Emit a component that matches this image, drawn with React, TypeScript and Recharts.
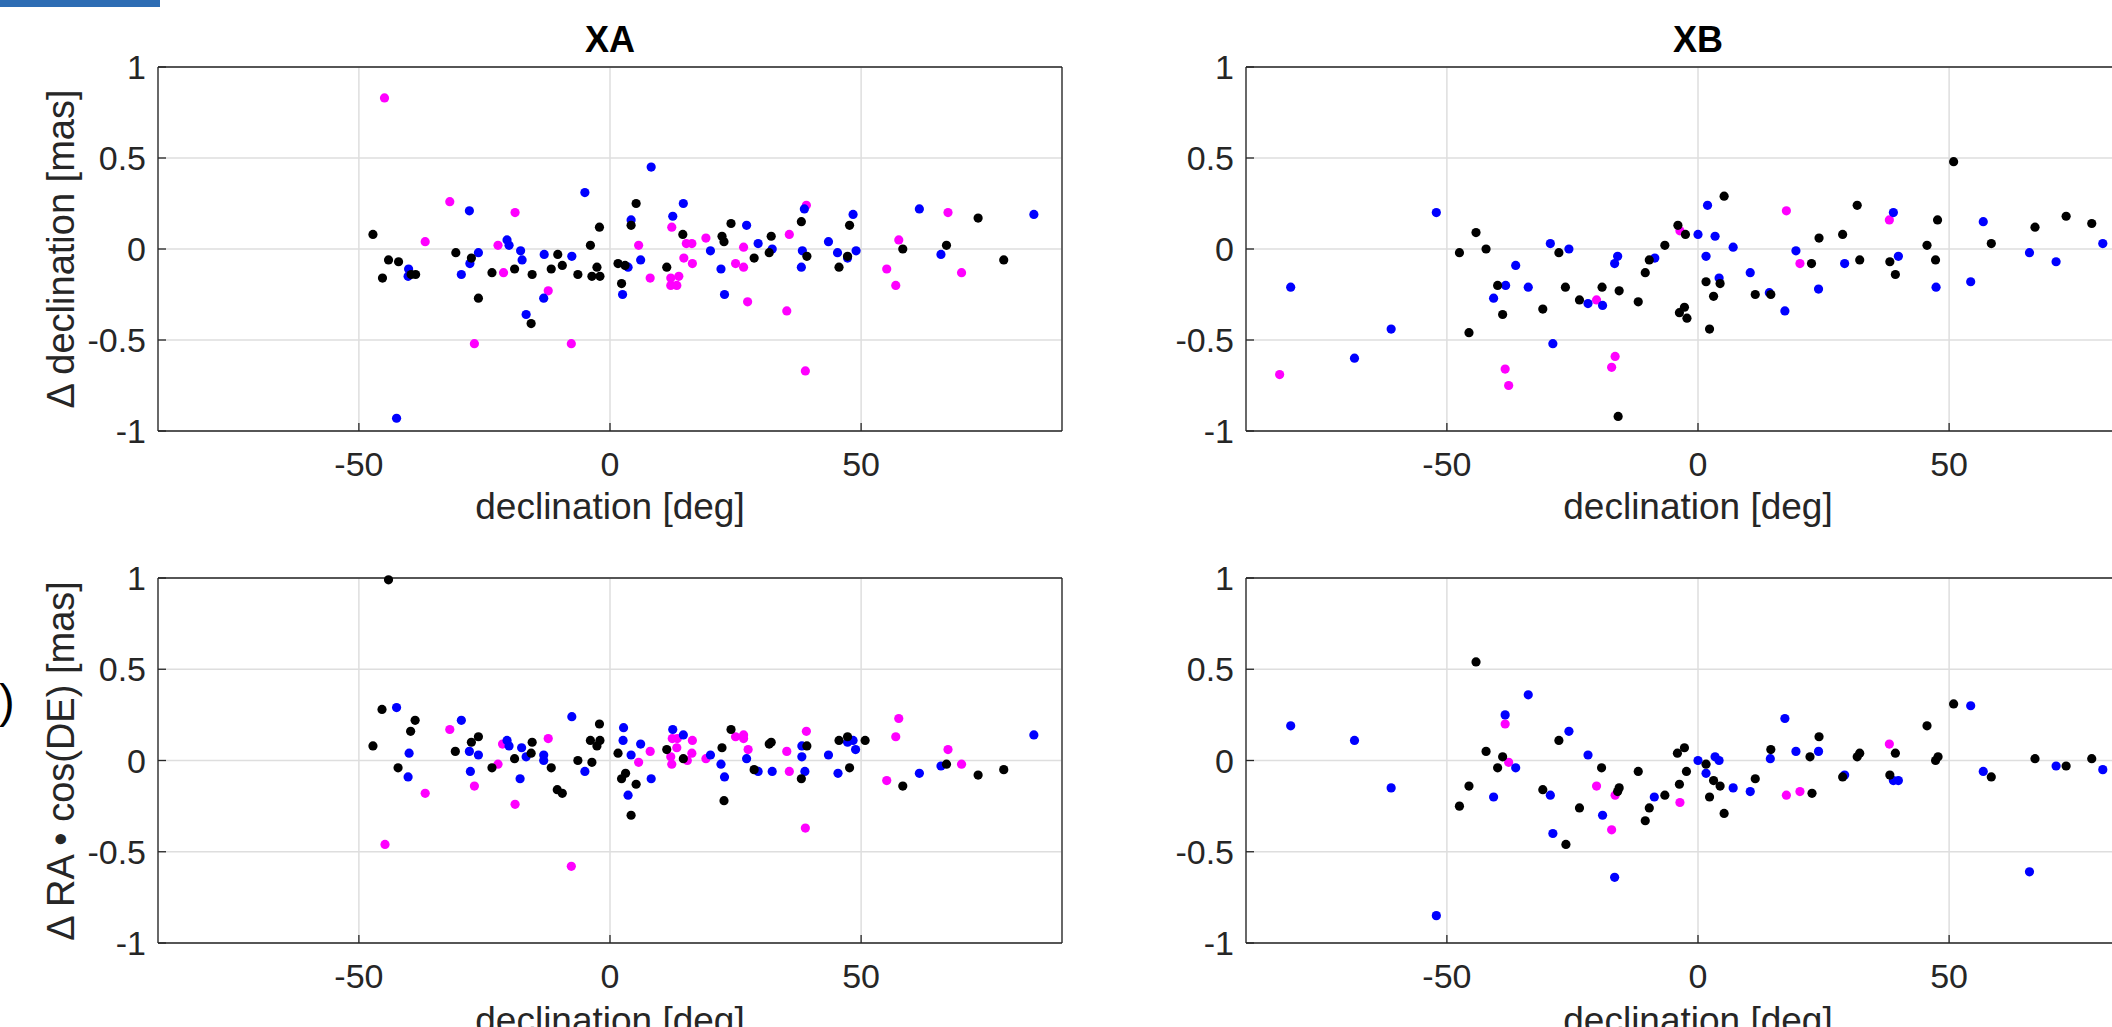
import { CartesianGrid, Scatter, ScatterChart, XAxis, YAxis } from "recharts"

type Pt = [number, number]

// declination [deg], offset [mas]
const xaDecMagenta: Pt[] = [
  [-44.9, 0.83], [-31.9, 0.26], [-36.8, 0.04], [-18.9, 0.2], [-22.3, 0.02], [-21.2, -0.13],
  [-27.0, -0.52], [-12.3, -0.23], [-7.7, -0.52], [5.7, 0.02], [12.3, 0.12], [8.0, -0.16],
  [14.7, -0.05], [16.4, -0.08], [15.2, 0.03], [16.3, 0.03], [19.1, 0.06], [12.1, -0.16],
  [13.7, -0.15], [12.1, -0.2], [13.3, -0.2], [26.6, 0.01], [25.0, -0.08], [26.6, -0.1],
  [27.4, -0.29], [35.7, 0.08], [35.2, -0.34], [39.1, 0.24], [38.9, -0.67], [57.5, 0.05],
  [55.1, -0.11], [56.9, -0.2], [67.3, 0.2], [70.0, -0.13],
]
const xaDecBlue: Pt[] = [
  [-42.5, -0.93], [-28.0, 0.21], [-26.2, -0.02], [-27.9, -0.08], [-29.6, -0.14], [-40.1, -0.11],
  [-40.2, -0.15], [-20.5, 0.05], [-20.1, 0.02], [-17.8, -0.01], [-17.5, -0.06], [-13.1, -0.03],
  [-7.6, -0.04], [-13.2, -0.27], [-16.7, -0.36], [-5.0, 0.31], [8.2, 0.45], [4.2, 0.16],
  [14.6, 0.25], [12.5, 0.18], [6.1, -0.06], [3.6, -0.1], [2.5, -0.25], [20.0, -0.01],
  [27.2, 0.13], [29.5, 0.03], [32.3, 0.0], [22.1, -0.11], [22.8, -0.25], [38.7, 0.22],
  [38.3, -0.01], [38.1, -0.1], [43.5, 0.04], [45.3, -0.02], [47.3, -0.05], [48.4, 0.19],
  [49.0, -0.01], [61.6, 0.22], [65.9, -0.03], [84.4, 0.19],
]
const xaDecBlack: Pt[] = [
  [-47.2, 0.08], [-45.3, -0.16], [-44.1, -0.06], [-42.1, -0.07], [-39.6, -0.14], [-38.7, -0.14],
  [-30.7, -0.02], [-27.6, -0.05], [-26.2, -0.27], [-23.5, -0.13], [-19.0, -0.11], [-15.5, -0.14],
  [-15.7, -0.41], [-11.7, -0.11], [-10.4, -0.03], [-9.5, -0.09], [-6.4, -0.14], [-3.9, 0.02],
  [-2.6, -0.1], [-3.6, -0.15], [-2.0, -0.15], [-2.1, 0.12], [5.2, 0.25], [4.2, 0.13],
  [1.6, -0.08], [3.0, -0.09], [2.3, -0.19], [11.3, -0.1], [14.5, 0.08], [24.1, 0.14],
  [22.3, 0.07], [22.7, 0.04], [28.7, -0.05], [32.1, 0.07], [31.7, -0.02], [38.1, 0.15],
  [39.2, -0.04], [47.7, 0.13], [45.6, -0.1], [47.3, -0.04], [58.3, 0.0], [67.0, 0.02],
  [73.3, 0.17], [78.4, -0.06],
]

const xbDecMagenta: Pt[] = [
  [-83.3, -0.69], [-38.4, -0.66], [-37.7, -0.75], [-16.5, -0.59], [-17.2, -0.65], [-20.2, -0.28],
  [-3.6, 0.1], [17.6, 0.21], [20.3, -0.08], [38.1, 0.16],
]
const xbDecBlue: Pt[] = [
  [-81.1, -0.21], [-68.4, -0.6], [-61.1, -0.44], [-52.1, 0.2], [-29.4, 0.03], [-25.7, 0.0],
  [-36.3, -0.09], [-38.3, -0.2], [-33.8, -0.21], [-40.7, -0.27], [-28.9, -0.52], [-16.0, -0.04],
  [-16.6, -0.08], [-21.9, -0.3], [-19.0, -0.31], [-8.6, -0.05], [1.9, 0.24], [0.0, 0.08],
  [3.4, 0.07], [7.0, 0.01], [1.6, -0.04], [4.2, -0.16], [10.4, -0.13], [14.2, -0.24],
  [17.3, -0.34], [19.5, -0.01], [24.0, -0.22], [29.2, -0.08], [38.9, 0.2], [39.9, -0.04],
  [47.4, -0.21], [54.3, -0.18], [56.8, 0.15], [66.0, -0.02], [71.3, -0.07], [80.6, 0.03],
]
const xbDecBlack: Pt[] = [
  [-44.2, 0.09], [-47.5, -0.02], [-42.2, 0.0], [-39.9, -0.2], [-38.9, -0.36], [-45.6, -0.46],
  [-30.9, -0.33], [-27.7, -0.02], [-26.4, -0.21], [-23.6, -0.28], [-19.1, -0.21], [-15.7, -0.23],
  [-15.9, -0.92], [-11.9, -0.29], [-10.5, -0.13], [-9.7, -0.06], [-6.6, 0.02], [-4.0, 0.13],
  [-2.5, 0.08], [-3.7, -0.35], [-2.7, -0.32], [-2.2, -0.38], [5.2, 0.29], [2.3, -0.44],
  [1.6, -0.18], [4.4, -0.19], [3.1, -0.26], [11.4, -0.25], [14.5, -0.25], [24.1, 0.06],
  [28.8, 0.08], [31.7, 0.24], [22.6, -0.08], [32.2, -0.06], [38.2, -0.07], [39.3, -0.14],
  [45.6, 0.02], [47.7, 0.16], [47.3, -0.06], [50.9, 0.48], [58.4, 0.03], [67.1, 0.12],
  [73.3, 0.18], [78.4, 0.14],
]

const xaRaMagenta: Pt[] = [
  [-44.8, -0.46], [-36.8, -0.18], [-31.9, 0.17], [-27.0, -0.14], [-22.3, -0.02], [-21.4, 0.09],
  [-18.9, -0.24], [-12.3, 0.12], [-7.7, -0.58], [5.7, -0.01], [8.0, 0.05], [12.4, 0.12],
  [13.4, 0.12], [13.3, 0.07], [12.1, 0.02], [12.3, -0.02], [16.4, 0.11], [16.3, 0.04],
  [15.4, 0.0], [19.1, 0.01], [25.0, 0.13], [26.6, 0.14], [26.6, 0.12], [27.5, 0.06],
  [35.2, 0.05], [35.7, -0.06], [39.1, 0.16], [38.9, -0.37], [57.5, 0.23], [56.9, 0.13],
  [55.1, -0.11], [67.3, 0.06], [70.0, -0.02],
]
const xaRaBlue: Pt[] = [
  [-42.5, 0.29], [-40.0, 0.04], [-40.2, -0.09], [-29.6, 0.22], [-28.0, 0.05], [-26.2, 0.03],
  [-27.8, -0.06], [-20.5, 0.11], [-20.1, 0.08], [-17.6, 0.07], [-16.7, 0.02], [-13.2, 0.03],
  [-13.2, 0.0], [-17.9, -0.1], [-7.6, 0.24], [-5.0, -0.06], [2.7, 0.18], [2.6, 0.11],
  [4.2, 0.03], [6.1, 0.09], [8.2, -0.1], [3.6, -0.19], [12.5, 0.17], [14.6, 0.14],
  [20.0, 0.03], [22.1, -0.02], [22.8, -0.09], [27.2, 0.01], [29.5, -0.06], [32.3, -0.06],
  [38.2, 0.08], [38.2, 0.02], [38.8, -0.06], [43.5, 0.03], [45.4, -0.07], [47.3, 0.1],
  [48.4, 0.11], [48.9, 0.06], [61.6, -0.07], [65.9, -0.03], [84.4, 0.14],
]
const xaRaBlack: Pt[] = [
  [-44.1, 0.99], [-45.4, 0.28], [-47.2, 0.08], [-42.2, -0.04], [-38.8, 0.22], [-39.7, 0.16],
  [-30.8, 0.05], [-27.6, 0.1], [-26.2, 0.13], [-23.5, -0.04], [-19.0, 0.01], [-15.5, 0.1],
  [-15.7, 0.04], [-11.7, -0.04], [-10.5, -0.16], [-9.5, -0.18], [-6.4, 0.0], [-3.6, -0.01],
  [-2.1, 0.2], [-3.9, 0.11], [-2.0, 0.11], [-2.6, 0.08], [1.6, 0.04], [3.1, -0.07],
  [2.3, -0.1], [5.2, -0.13], [4.2, -0.3], [11.3, 0.06], [14.6, 0.01], [24.1, 0.17],
  [22.3, 0.07], [22.7, -0.22], [28.7, -0.05], [31.7, 0.09], [32.1, 0.1], [39.2, 0.08],
  [38.1, -0.1], [45.6, 0.11], [47.3, 0.13], [47.7, -0.04], [50.8, 0.11], [58.3, -0.14],
  [67.0, -0.02], [73.3, -0.08], [78.4, -0.05],
]

const xbRaMagenta: Pt[] = [
  [-38.4, 0.2], [-37.7, -0.01], [-20.2, -0.14], [-16.5, -0.19], [-17.2, -0.38], [-3.6, -0.23],
  [17.6, -0.19], [20.3, -0.17], [38.1, 0.09],
]
const xbRaBlue: Pt[] = [
  [-81.1, 0.19], [-68.4, 0.11], [-61.1, -0.15], [-52.1, -0.85], [-38.4, 0.25], [-33.8, 0.36],
  [-25.7, 0.16], [-36.3, -0.04], [-40.7, -0.2], [-29.4, -0.19], [-28.9, -0.4], [-21.9, 0.03],
  [-19.0, -0.3], [-16.6, -0.64], [-8.7, -0.2], [0.0, 0.0], [1.6, -0.07], [3.4, 0.02],
  [4.2, 0.0], [7.0, -0.15], [10.4, -0.17], [14.4, 0.01], [17.3, 0.23], [19.5, 0.05],
  [24.0, 0.05], [29.2, -0.08], [38.9, -0.11], [39.9, -0.11], [54.3, 0.3], [56.8, -0.06],
  [66.0, -0.61], [71.3, -0.03], [80.6, -0.05],
]
const xbRaBlack: Pt[] = [
  [-44.2, 0.54], [-42.2, 0.05], [-38.9, 0.02], [-39.9, -0.04], [-45.6, -0.14], [-47.5, -0.25],
  [-27.7, 0.11], [-30.9, -0.16], [-23.6, -0.26], [-26.3, -0.46], [-19.2, -0.04], [-15.7, -0.15],
  [-16.0, -0.17], [-11.9, -0.06], [-9.7, -0.26], [-10.5, -0.33], [-6.6, -0.19], [-4.1, 0.04],
  [-2.7, 0.07], [-2.3, -0.06], [-3.7, -0.13], [1.6, -0.02], [3.1, -0.11], [4.4, -0.14],
  [2.3, -0.2], [5.2, -0.29], [11.4, -0.1], [14.5, 0.06], [22.3, 0.02], [24.1, 0.13],
  [22.7, -0.18], [28.8, -0.09], [31.7, 0.02], [32.2, 0.04], [38.2, -0.08], [39.3, 0.04],
  [45.6, 0.19], [47.3, 0.0], [47.8, 0.02], [50.9, 0.31], [58.4, -0.09], [67.1, 0.01],
  [73.3, -0.03], [78.4, 0.01],
]

const xTicks = [-50, 0, 50]
const yTicks = [-1, -0.5, 0, 0.5, 1]

const FONT = "'Liberation Sans', Arial, Helvetica, sans-serif"
const INK = "#262626"
const PLOT_W = 904
const M = { top: 70, right: 10, bottom: 110, left: 170 }

const toData = (pts: Pt[]) => pts.map(([x, y]) => ({ x, y }))

const dot = (color: string) => (p: any) => (
  <circle cx={p.cx} cy={p.cy} r={4.6} fill={color} />
)

type PanelProps = {
  left: number
  top: number
  height: number
  magenta: Pt[]
  blue: Pt[]
  black: Pt[]
}

const Panel = ({ left, top, height, magenta, blue, black }: PanelProps) => {
  const plotBottom = M.top + height
  const line = { stroke: INK, strokeWidth: 1.3 }
  return (
    <div style={{ position: "absolute", left: left - M.left, top: top - M.top }}>
      <ScatterChart width={M.left + PLOT_W + M.right} height={M.top + height + M.bottom} margin={M}>
        <CartesianGrid xAxisId="b" yAxisId="l" stroke="#dedede" strokeWidth={1.5} />
        <XAxis
          xAxisId="b"
          type="number"
          dataKey="x"
          domain={[-90, 90]}
          ticks={xTicks}
          interval={0}
          orientation="bottom"
          mirror
          tickSize={8}
          axisLine={line}
          tickLine={line}
          tick={(p: any) => (
            <text x={p.x} y={plotBottom + 45} textAnchor="middle" fontSize={34} fontFamily={FONT} fill={INK}>
              {p.payload.value}
            </text>
          )}
        />
        <XAxis
          xAxisId="t"
          type="number"
          dataKey="x"
          domain={[-90, 90]}
          ticks={xTicks}
          interval={0}
          orientation="top"
          mirror
          tickSize={8}
          axisLine={line}
          tickLine={line}
          tick={false}
        />
        <YAxis
          yAxisId="l"
          type="number"
          dataKey="y"
          domain={[-1, 1]}
          ticks={yTicks}
          interval={0}
          orientation="left"
          mirror
          tickSize={8}
          axisLine={line}
          tickLine={line}
          tick={(p: any) => (
            <text x={M.left - 12} y={p.y + 12} textAnchor="end" fontSize={34} fontFamily={FONT} fill={INK}>
              {p.payload.value}
            </text>
          )}
        />
        <YAxis
          yAxisId="r"
          type="number"
          dataKey="y"
          domain={[-1, 1]}
          ticks={yTicks}
          interval={0}
          orientation="right"
          mirror
          tickSize={8}
          axisLine={line}
          tickLine={line}
          tick={false}
        />
        <Scatter xAxisId="b" yAxisId="l" data={toData(magenta)} shape={dot("#ff00ff")} isAnimationActive={false} />
        <Scatter xAxisId="b" yAxisId="l" data={toData(blue)} shape={dot("#0000ff")} isAnimationActive={false} />
        <Scatter xAxisId="b" yAxisId="l" data={toData(black)} shape={dot("#000000")} isAnimationActive={false} />
      </ScatterChart>
    </div>
  )
}

const panels: PanelProps[] = [
  { left: 158, top: 67, height: 364, magenta: xaDecMagenta, blue: xaDecBlue, black: xaDecBlack },
  { left: 1246, top: 67, height: 364, magenta: xbDecMagenta, blue: xbDecBlue, black: xbDecBlack },
  { left: 158, top: 578, height: 365, magenta: xaRaMagenta, blue: xaRaBlue, black: xaRaBlack },
  { left: 1246, top: 578, height: 365, magenta: xbRaMagenta, blue: xbRaBlue, black: xbRaBlack },
]

export default function App() {
  const label = { fontFamily: FONT, fontSize: 37, fill: INK, textAnchor: "middle" as const }
  return (
    <div
      style={{
        position: "absolute",
        left: 0,
        top: 0,
        width: 2112,
        height: 1027,
        overflow: "hidden",
        background: "#fff",
      }}
    >
      {panels.map((p, i) => (
        <Panel key={i} {...p} />
      ))}
      <svg
        width={2112}
        height={1027}
        style={{ position: "absolute", left: 0, top: 0, pointerEvents: "none" }}
      >
        <rect x={0} y={0} width={160} height={7} fill="#2e6db4" />
        <text x={-1} y={717} fontFamily={FONT} fontSize={47} fill="#000">)</text>
        <text x={610} y={52} fontFamily={FONT} fontSize={36} fontWeight="bold" textAnchor="middle" fill="#000">XA</text>
        <text x={1698} y={52} fontFamily={FONT} fontSize={36} fontWeight="bold" textAnchor="middle" fill="#000">XB</text>
        <text x={610} y={519} {...label}>declination [deg]</text>
        <text x={1698} y={519} {...label}>declination [deg]</text>
        <text x={610} y={1033} {...label}>declination [deg]</text>
        <text x={1698} y={1033} {...label}>declination [deg]</text>
        <text transform="translate(74 249) rotate(-90)" {...label} fontSize={38}>Δ declination [mas]</text>
        <text transform="translate(74 761) rotate(-90)" {...label} fontSize={38}>Δ RA • cos(DE) [mas]</text>
      </svg>
    </div>
  )
}
